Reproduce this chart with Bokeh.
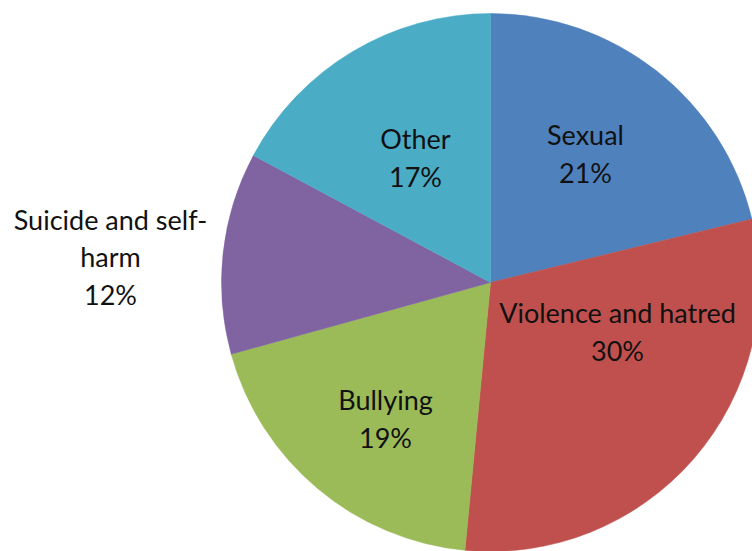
import math
from bokeh.plotting import figure
from bokeh.models import ColumnDataSource
from bokeh.core.properties import value
from bokeh.embed import file_html
from bokeh.resources import INLINE

categories = ["Sexual", "Violence and hatred", "Bullying", "Suicide and self-harm", "Other"]
percents = [21, 30, 19, 12, 17]
colors = ["#4F81BD", "#C0504D", "#9BBB59", "#8064A2", "#4BACC6"]
label_lines = [["Sexual", "21%"], ["Violence and hatred", "30%"], ["Bullying", "19%"],
               ["Suicide and self-", "harm", "12%"], ["Other", "17%"]]

W, H = 752, 551
cx, cy, r = 490, H - 282, 269
# label centre positions (pixel coords, from top-left)
label_pos = [(585, 153), (617, 331), (385, 418), (110, 256), (415, 157)]
line_h = 37.5

total = sum(percents)
starts, ends = [], []
acc = 0
for v in percents:
    starts.append(math.pi / 2 - acc / total * 2 * math.pi)
    acc += v
    ends.append(math.pi / 2 - acc / total * 2 * math.pi)

p = figure(width=W, height=H, x_range=(0, W), y_range=(0, H), output_backend="svg",
           toolbar_location=None, min_border=0)
p.axis.visible = False
p.grid.visible = False
p.outline_line_color = None

src = ColumnDataSource(dict(x=[cx] * len(percents), y=[cy] * len(percents),
                            start=starts, end=ends, color=colors))
p.wedge(x="x", y="y", radius=r, start_angle="start", end_angle="end",
        direction="clock", fill_color="color", line_color="color", line_width=0.5, source=src)

tx, ty, tt = [], [], []
for lines, (lx, ly) in zip(label_lines, label_pos):
    n = len(lines)
    for i, t in enumerate(lines):
        tx.append(lx)
        ty.append(H - (ly + (i - (n - 1) / 2) * line_h))
        tt.append(t)
tsrc = ColumnDataSource(dict(x=tx, y=ty, text=tt))
p.text(x="x", y="y", text="text", source=tsrc, text_font=value("Lato"),
       text_font_size="27px", text_align="center", text_baseline="middle", text_color="#111111")

open("out.html", "w").write(file_html(p, INLINE))
